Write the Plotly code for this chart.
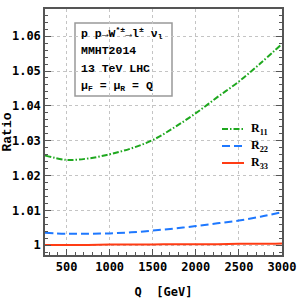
import plotly.graph_objects as go

Q = [250, 500, 750, 1000, 1250, 1500, 1750, 2000, 2250, 2500, 2750, 3000]
R11 = [1.0258, 1.0245, 1.0249, 1.0261, 1.0278, 1.0302, 1.0338, 1.0379, 1.0425, 1.0470, 1.0522, 1.0578]
R22 = [1.0036, 1.0033, 1.0033, 1.0034, 1.0037, 1.0042, 1.0048, 1.0055, 1.0063, 1.0071, 1.0082, 1.0095]
R33 = [1.0001, 1.0001, 1.0001, 1.0002, 1.0002, 1.0002, 1.0003, 1.0003, 1.0003, 1.0004, 1.0004, 1.0005]

names = ["R<sub>11</sub>", "R<sub>22</sub>", "R<sub>33</sub>"]
colors = ["#1fa81f", "#1e78ff", "#ff3c14"]
dashes = ["6px,2px,1.5px,2px", "8px,4px", "solid"]

box_lines = ["p p\u2192W<sup>*\u00b1</sup>\u2192l<sup>\u00b1</sup> \u03bd<sub>l</sub>",
             "MMHT2014", "13 TeV LHC",
             "\u03bc<sub>F</sub> = \u03bc<sub>R</sub> = Q"]

L, R, T, B = 45, 18, 9, 45
W = H = 300
pw, ph = W - L - R, H - T - B

def px(x):
    return (x - L) / pw

def py(y):
    return (H - B - y) / ph

fig = go.Figure()
for ys, nm, c, d in zip([R11, R22, R33], names, colors, dashes):
    fig.add_trace(go.Scatter(x=Q, y=ys, mode="lines", name=nm,
                             line=dict(color=c, width=2, dash=d, shape="spline"),
                             showlegend=False))

shapes = [dict(type="rect", xref="paper", yref="paper",
               x0=px(75), x1=px(172), y0=py(96), y1=py(23),
               line=dict(color="#999999", width=1.5), fillcolor="white", layer="between")]
annotations = []
for i, t in enumerate(box_lines):
    annotations.append(dict(xref="paper", yref="paper", x=px(79), y=py(33 + 17.5 * i),
                            text=t, showarrow=False, xanchor="left", yanchor="middle",
                            font=dict(family="Liberation Mono", size=11.5, color="black", weight="bold")))
for i, (nm, c, d) in enumerate(zip(names, colors, dashes)):
    yy = py(129 + 17 * i)
    shapes.append(dict(type="line", xref="paper", yref="paper", x0=px(222), x1=px(244),
                       y0=yy, y1=yy, line=dict(color=c, width=2, dash=d)))
    annotations.append(dict(xref="paper", yref="paper", x=px(249), y=yy, text=nm,
                            showarrow=False, xanchor="left", yanchor="middle",
                            font=dict(family="Liberation Serif", size=12, color="black", weight="bold")))

axcommon = dict(showline=True, linecolor="#555555", linewidth=1.5,
                ticks="inside", ticklen=6, tickcolor="#555555",
                showgrid=True, gridcolor="#c4c4c4", griddash="dot", gridwidth=1,
                zeroline=False, automargin=False,
                tickfont=dict(family="DejaVu Sans Mono", size=12, color="black", weight="bold"))

fig.update_layout(
    width=W, height=H, margin=dict(l=L, r=R, t=T, b=B, autoexpand=False),
    paper_bgcolor="white", plot_bgcolor="white",
    shapes=shapes, annotations=annotations,
    xaxis=dict(range=[250, 3000], tickvals=[500, 1000, 1500, 2000, 2500, 3000],
               minor=dict(dtick=100, ticks="inside", ticklen=3, tickcolor="#555555", showgrid=False),
               mirror=True,
               title=dict(text="Q  [GeV]", standoff=14,
                          font=dict(family="DejaVu Sans Mono", size=12, color="black", weight="bold")),
               **axcommon),
    yaxis=dict(range=[0.9972, 1.0678], tickvals=[1, 1.01, 1.02, 1.03, 1.04, 1.05, 1.06],
               ticktext=["1", "1.01", "1.02", "1.03", "1.04", "1.05", "1.06"],
               minor=dict(dtick=0.002, tick0=1, ticks="inside", ticklen=3, tickcolor="#555555", showgrid=False),
               mirror="ticks",
               title=dict(text="Ratio", standoff=4,
                          font=dict(family="Liberation Mono", size=13, color="black", weight="bold")),
               **axcommon),
)

fig.write_html("out.html", config={"displayModeBar": False},
               post_script="document.body.style.margin='0';document.body.style.overflow='hidden';")
